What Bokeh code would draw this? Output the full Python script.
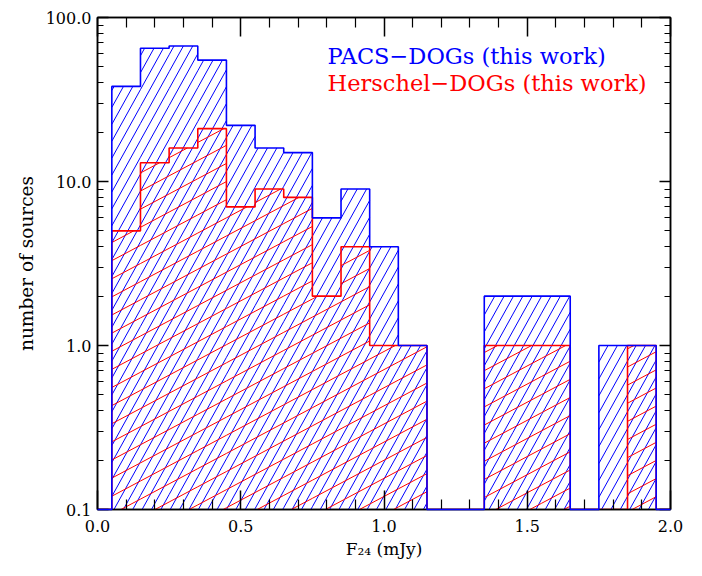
import numpy as np
from bokeh.plotting import figure
from bokeh.models import (FixedTicker, PrintfTickFormatter, LinearAxis, LogAxis,
                          Label, Range1d, CustomJSTickFormatter)
from bokeh.embed import file_html
from bokeh.resources import INLINE

# ---------------- data ----------------
bin_centers = [0.1, 0.2, 0.3, 0.4, 0.5, 0.6, 0.7, 0.8, 0.9, 1.0,
               1.1, 1.2, 1.3, 1.4, 1.5, 1.6, 1.7, 1.8, 1.9]
bin_width = 0.1
pacs_counts = [38, 65, 67, 55, 22, 16, 15, 6, 9, 4,
               1, 0, 0, 2, 2, 2, 0, 1, 1]
herschel_counts = [5, 13, 16, 21, 7, 9, 8, 2, 4, 1,
                   1, 0, 0, 1, 1, 1, 0, 0, 1]
x_ticks = [0.0, 0.5, 1.0, 1.5, 2.0]
x_minor = [0.1, 0.2, 0.3, 0.4, 0.6, 0.7, 0.8, 0.9, 1.1, 1.2, 1.3, 1.4,
           1.6, 1.7, 1.8, 1.9]
y_ticks = [0.1, 1.0, 10.0, 100.0]
y_minor = [0.2, 0.3, 0.4, 0.5, 0.6, 0.7, 0.8, 0.9,
           2, 3, 4, 5, 6, 7, 8, 9,
           20, 30, 40, 50, 60, 70, 80, 90]
legend_labels = ["PACS\u2212DOGs (this work)", "Herschel\u2212DOGs (this work)"]
XMIN, XMAX = 0.0, 2.0
YMIN, YMAX = 0.1, 100.0

FONT = "DejaVu Serif"
BLUE = "#0000ff"
RED = "#ff0000"

FW, FH = 573, 492  # frame size in px


def step_outline(centers, counts, width):
    xs, ys = [XMIN], [YMIN]
    xs.append(centers[0] - width / 2)
    ys.append(YMIN)
    for c, v in zip(centers, counts):
        val = v if v > 0 else YMIN
        xs += [c - width / 2, c + width / 2]
        ys += [val, val]
    xs += [centers[-1] + width / 2, XMAX]
    ys += [YMIN, YMIN]
    return xs, ys


def hatch(centers, counts, width, angle_deg, spacing, phase=0.0):
    th = np.radians(angle_deg)
    dx, dy = np.cos(th), np.sin(th)
    nx, ny = -dy, dx
    ldec = np.log10(YMAX / YMIN)
    X0, Y0, X1, Y1 = [], [], [], []
    for c, v in zip(centers, counts):
        if v <= 0:
            continue
        xa = (c - width / 2 - XMIN) / (XMAX - XMIN) * FW
        xb = (c + width / 2 - XMIN) / (XMAX - XMIN) * FW
        ya = 0.0
        yb = np.log10(v / YMIN) / ldec * FH
        cs = [nx * x + ny * y for x in (xa, xb) for y in (ya, yb)]
        kmin = int(np.ceil((min(cs) - phase) / spacing))
        kmax = int(np.floor((max(cs) - phase) / spacing))
        for k in range(kmin, kmax + 1):
            cc = phase + k * spacing
            px, py = cc * nx, cc * ny
            t1 = sorted([(xa - px) / dx, (xb - px) / dx])
            t2 = sorted([(ya - py) / dy, (yb - py) / dy])
            lo, hi = max(t1[0], t2[0]), min(t1[1], t2[1])
            if hi - lo < 1e-6:
                continue
            for t, XL, YL in ((lo, X0, Y0), (hi, X1, Y1)):
                sx, sy = px + t * dx, py + t * dy
                XL.append(float(XMIN + sx / FW * (XMAX - XMIN)))
                YL.append(float(YMIN * 10 ** (sy / FH * ldec)))
    return X0, Y0, X1, Y1


p = figure(frame_width=FW, frame_height=FH, y_axis_type="log",
           x_range=Range1d(XMIN, XMAX), y_range=Range1d(YMIN, YMAX),
           output_backend="svg", toolbar_location=None,
           min_border_left=97, min_border_top=17, min_border_right=24,
           min_border_bottom=58)
p.grid.visible = False
p.outline_line_color = "black"
p.outline_line_width = 1.5
p.background_fill_color = "white"
p.border_fill_color = "white"

# hatching
bx0, by0, bx1, by1 = hatch(bin_centers, pacs_counts, bin_width, 61, 8.2, 2.0)
p.segment(bx0, by0, bx1, by1, line_color=BLUE, line_width=1.0)
rx0, ry0, rx1, ry1 = hatch(bin_centers, herschel_counts, bin_width, 28, 16.0, 5.0)
p.segment(rx0, ry0, rx1, ry1, line_color=RED, line_width=1.0)

# outlines
hx, hy = step_outline(bin_centers, herschel_counts, bin_width)
p.line(hx, hy, line_color=RED, line_width=1.6)
px_, py_ = step_outline(bin_centers, pacs_counts, bin_width)
blue_line = p.line(px_, py_, line_color=BLUE, line_width=1.6)
blue_line.level = "overlay"

# axes styling
xt = FixedTicker(ticks=x_ticks, minor_ticks=x_minor)
yt = FixedTicker(ticks=y_ticks, minor_ticks=y_minor)


def style(ax, major, minor):
    ax.axis_line_color = "black"
    ax.axis_line_width = 1.5
    ax.major_tick_line_color = "black"
    ax.minor_tick_line_color = "black"
    ax.major_tick_line_width = 1.5
    ax.minor_tick_line_width = 1.2
    ax.major_tick_in = major
    ax.major_tick_out = 0
    ax.minor_tick_in = minor
    ax.minor_tick_out = 0
    ax.major_label_text_font = FONT
    ax.major_label_text_font_size = "16px"
    ax.major_label_text_color = "black"
    ax.axis_label_text_font = FONT
    ax.axis_label_text_font_style = "normal"
    ax.axis_label_text_color = "black"


xa = p.xaxis[0]
xa.ticker = xt
xa.formatter = PrintfTickFormatter(format="%.1f")
style(xa, 19, 10)
xa.major_label_standoff = 10
xa.axis_label = "F\u2082\u2084 (mJy)"
xa.axis_label_text_font_size = "17px"
xa.axis_label_standoff = 4

ya = p.yaxis[0]
ya.ticker = yt
ya.formatter = PrintfTickFormatter(format="%.1f")
style(ya, 11, 6)
ya.major_label_standoff = 6
ya.axis_label = "number of sources"
ya.axis_label_text_font_size = "18.5px"
ya.axis_label_standoff = 6

blank = CustomJSTickFormatter(code="return ''")

top = LinearAxis(ticker=xt, formatter=blank)
style(top, 19, 10)
top.major_label_standoff = 0
p.add_layout(top, "above")

right = LogAxis(ticker=yt, formatter=blank)
style(right, 11, 6)
right.major_label_standoff = 0
p.add_layout(right, "right")

# legend texts
p.add_layout(Label(x=0.803, y=58.6, text=legend_labels[0], text_color=BLUE,
                   text_font=FONT, text_font_size="22.5px",
                   text_baseline="alphabetic"))
p.add_layout(Label(x=0.803, y=39.7, text=legend_labels[1], text_color=RED,
                   text_font=FONT, text_font_size="22.5px",
                   text_baseline="alphabetic"))

open("out.html", "w").write(file_html(p, INLINE))
